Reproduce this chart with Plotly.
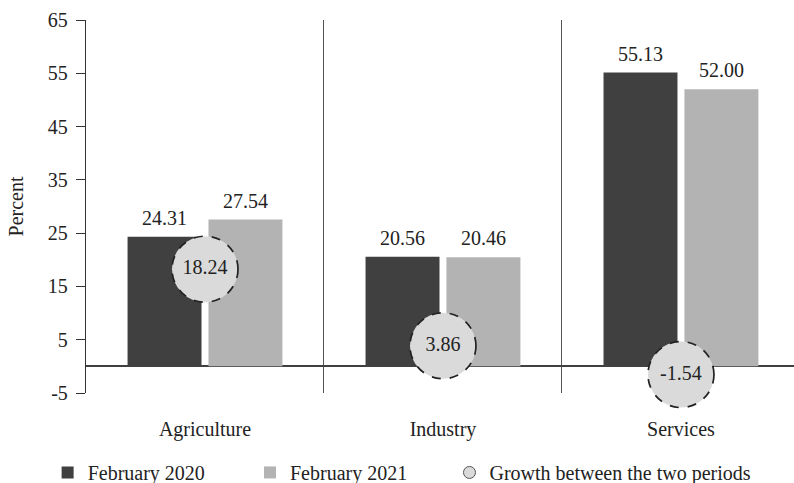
import plotly.graph_objects as go

# Employment share by sector (percent) and growth between the two periods
sectors = ["Agriculture", "Industry", "Services"]
feb_2020 = [24.31, 20.56, 55.13]
feb_2021 = [27.54, 20.46, 52.00]
growth = [18.24, 3.86, -1.54]
y_ticks = [-5, 5, 15, 25, 35, 45, 55, 65]
y_tick_text = ["-5", "5", "15", "25", "35", "45", "55", "65"]

FONT = "Liberation Serif"
DARK = "#404040"
LIGHT = "#b3b3b3"
BUBBLE = "#dadada"
INK = "#222222"
BUBBLE_R = 33      # bubble radius in px
BAR_SHIFT = 40.5   # px from category centre to each bar centre
FS = 20
Y_RANGE = [-5, 65]

fig = go.Figure()
fig.add_trace(go.Bar(x=sectors, y=feb_2020, name="February 2020", legend="legend",
                     marker=dict(color=DARK, line=dict(width=0))))
fig.add_trace(go.Bar(x=sectors, y=feb_2021, name="February 2021", legend="legend2",
                     marker=dict(color=LIGHT, line=dict(width=0))))

# growth bubbles: filled disc + value label
fig.add_trace(go.Scatter(
    x=sectors, y=growth, mode="markers+text",
    text=[f"{g:.2f}" for g in growth], textposition="middle center",
    textfont=dict(family=FONT, size=FS, color=INK),
    marker=dict(size=2 * BUBBLE_R, color=BUBBLE, line=dict(width=0)),
    showlegend=False, cliponaxis=False, hoverinfo="skip"))

# legend entry for the bubbles
fig.add_trace(go.Scatter(
    x=[None], y=[None], mode="markers", name="Growth between the two periods",
    legend="legend3",
    marker=dict(size=12, color=BUBBLE, line=dict(width=1, color="#555555"))))

# dashed outline around each bubble (paper-referenced vertically so it is not
# clipped when a bubble crosses the bottom of the plot area)
for s, g in zip(sectors, growth):
    y_frac = (g - Y_RANGE[0]) / (Y_RANGE[1] - Y_RANGE[0])
    fig.add_shape(type="circle", xref="x", yref="paper", layer="above",
                  xsizemode="pixel", ysizemode="pixel",
                  xanchor=s, yanchor=y_frac,
                  x0=-BUBBLE_R, x1=BUBBLE_R, y0=-BUBBLE_R, y1=BUBBLE_R,
                  line=dict(color="#222222", width=1.7, dash="dash"),
                  fillcolor="rgba(0,0,0,0)")

# value labels above the bars
for values, shift in ((feb_2020, -BAR_SHIFT), (feb_2021, BAR_SHIFT)):
    for s, v in zip(sectors, values):
        fig.add_annotation(x=s, y=v, text=f"{v:.2f}", showarrow=False,
                           xshift=shift, yshift=6, yanchor="bottom",
                           font=dict(family=FONT, size=FS, color=INK))

legend_style = dict(orientation="h", xanchor="left", y=-0.213, yanchor="middle",
                    font=dict(family=FONT, size=FS, color=INK),
                    bgcolor="rgba(0,0,0,0)")

fig.update_layout(
    width=794, height=483,
    margin=dict(l=86, r=0, t=20, b=90, autoexpand=False),
    plot_bgcolor="white", paper_bgcolor="white",
    font=dict(family=FONT, size=FS, color=INK),
    barmode="group", bargap=0.32, bargroupgap=0.086,
    showlegend=True,
    legend=dict(x=-0.0542, **legend_style),
    legend2=dict(x=0.2316, **legend_style),
    legend3=dict(x=0.5134, **legend_style),
    xaxis=dict(range=[-0.5, 2.475], showline=False, ticks="",
               tickson="boundaries", showgrid=True,
               gridcolor="#555555", gridwidth=1,
               ticklabelstandoff=22, zeroline=False,
               tickfont=dict(family=FONT, size=FS, color=INK)),
    yaxis=dict(range=Y_RANGE, tickvals=y_ticks, ticktext=y_tick_text,
               showgrid=False,
               showline=True, linecolor="#333333", linewidth=1.4,
               ticks="outside", ticklen=9, tickwidth=1.4, tickcolor="#333333",
               ticklabelstandoff=4,
               zeroline=True, zerolinecolor="#404040", zerolinewidth=1.6,
               title=dict(text="Percent", standoff=18,
                          font=dict(family=FONT, size=FS, color=INK)),
               tickfont=dict(family=FONT, size=FS, color=INK)),
)

fig.write_html("out.html")
